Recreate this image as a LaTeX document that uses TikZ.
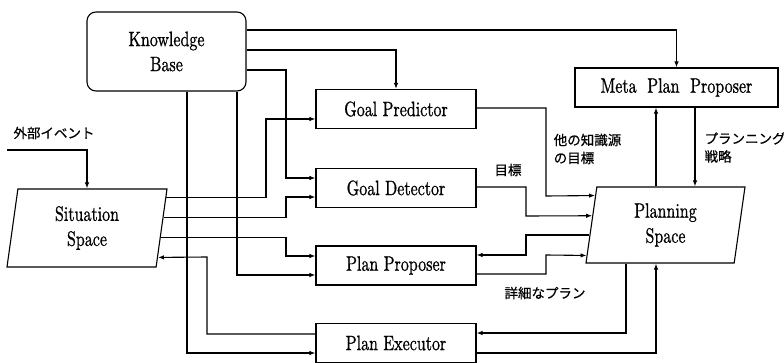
\documentclass[tikz,border=0pt]{standalone}
\usepackage{fontspec}
\usepackage{graphicx}
\usepackage{tikz}
\usetikzlibrary{arrows.meta,calc,shapes.geometric}
\newfontfamily\jpfont{Noto Sans CJK JP}[FakeBold=0.6]
\newfontfamily\engfam{lmroman10-regular}[Extension=.otf, FakeBold=1.0]
\newcommand{\tallt}[1]{\scalebox{1}[1.3]{#1}}
\newcommand{\engfont}{\engfam\fontsize{16}{25}\selectfont}

\begin{document}
\begin{tikzpicture}[
  x=1pt, y=-1pt, line width=1.1pt,
  >={Latex[length=6pt,width=4.5pt]},
  arr/.style={->},
  kbbox/.style={draw, rounded corners=9pt, minimum width=159pt,
                minimum height=79pt, inner sep=0pt, align=center, font=\engfont},
  modbox/.style={draw, minimum width=160pt, minimum height=39pt,
                 inner sep=0pt, font=\engfont},
  spacebox/.style={draw, trapezium, trapezium left angle=76,
                   trapezium right angle=104, trapezium stretches body,
                   minimum width=160pt, minimum height=78pt, inner sep=0pt,
                   align=center, font=\engfont},
  jplabel/.style={font=\jpfont\fontsize{13.5}{18}\selectfont, inner sep=0pt}
]
  \useasboundingbox (0,0) rectangle (784,363);

  % --- knowledge sources ---
  \node[kbbox] (kb) at (166.5,51.5) {\tallt{Knowledge}\\\tallt{Base}};
  \node[modbox] (gp) at (396,109) {\tallt{Goal Predictor}};
  \node[modbox] (gd) at (396,188) {\tallt{Goal Detector}};
  \node[modbox] (pp) at (396,265.5) {\tallt{Plan Proposer}};
  \node[modbox] (pe) at (396,343) {\tallt{Plan Executor}};
  \node[modbox, minimum width=203pt] (meta) at (676.5,87.5)
       {\tallt{Meta\ \ Plan\ \ Proposer}};

  % --- spaces ---
  \node[spacebox] (sit) at (87,228) {\tallt{Situation}\\\tallt{Space}};
  \node[spacebox, minimum width=159pt, minimum height=76pt] (pln) at (665.5,225)
       {\tallt{Planning}\\\tallt{Space}};

  % points on the slanted sides
  \coordinate (sitA) at ($(sit.top right corner)!0.115!(sit.bottom right corner)$);
  \coordinate (sitB) at ($(sit.top right corner)!0.372!(sit.bottom right corner)$);
  \coordinate (sitC) at ($(sit.top right corner)!0.615!(sit.bottom right corner)$);
  \coordinate (sitD) at ($(sit.top right corner)!0.872!(sit.bottom right corner)$);
  \coordinate (plnA) at ($(pln.top left corner)!0.118!(pln.bottom left corner)$);
  \coordinate (plnB) at ($(pln.top left corner)!0.38!(pln.bottom left corner)$);
  \coordinate (plnC) at ($(pln.top left corner)!0.63!(pln.bottom left corner)$);
  \coordinate (plnD) at ($(pln.top left corner)!0.895!(pln.bottom left corner)$);

  % --- labels ---
  \node[jplabel] (evlabel) at (54,133) {外部イベント};
  \coordinate (ext) at (7,150);
  \node[jplabel, align=left] (othergoal) at (587.5,149) {他の知識源\\の目標};
  \node[jplabel] (goallbl) at (508,170) {目標};
  \node[jplabel, align=left, anchor=west] (stratlbl) at (704,147.5) {プランニング\\戦略};
  \node[jplabel] (detaillbl) at (545,293) {詳細なプラン};

  % --- from knowledge base ---
  \draw[arr] (kb.east |- 0,30) -| (meta.north);
  \draw[arr] (kb.east |- 0,50) -| (gp.north);
  \draw[arr] (kb.east |- 0,70) -| (286,178) -- (gd.west |- 0,178);
  \draw[arr] (kb.south -| 237,0) |- (pp.west |- 0,275);
  \draw[arr] (kb.south -| 187,0) |- (pe.west |- 0,353);

  % --- situation space ---
  \draw[arr] (ext) -| (87,0 |- sit.north);
  \draw[arr] (sitA) -| (266,119) -- (gp.west |- 0,119);
  \draw[arr] (sitB) -| (286,197) -- (gd.west |- 0,197);
  \draw[arr] (sitC) -| (286,256) -- (pp.west |- 0,256);
  \draw[arr] (pe.west |- 0,334) -| (207,257) -- (sitD);

  % --- planning space ---
  \draw[arr] (gp.east |- 0,108) -| (546,196) -- (plnA);
  \draw[arr] (gd.east |- 0,187) -| (526,216) -- (plnB);
  \draw[arr] (plnC) -| (526,255) -- (pp.east |- 0,255);
  \draw[arr] (pp.east |- 0,274) -| (546,255) -- (plnD);
  \draw[arr] (pln.south -| 626,0) |- (pe.east |- 0,333);
  \draw[arr] (pe.east |- 0,353) -| (pln.south -| 656,0);
  \draw[arr] (pln.north -| 656,0) -- (meta.south -| 656,0);
  \draw[arr] (meta.south -| 695,0) -- (pln.north -| 695,0);
\end{tikzpicture}
\end{document}
